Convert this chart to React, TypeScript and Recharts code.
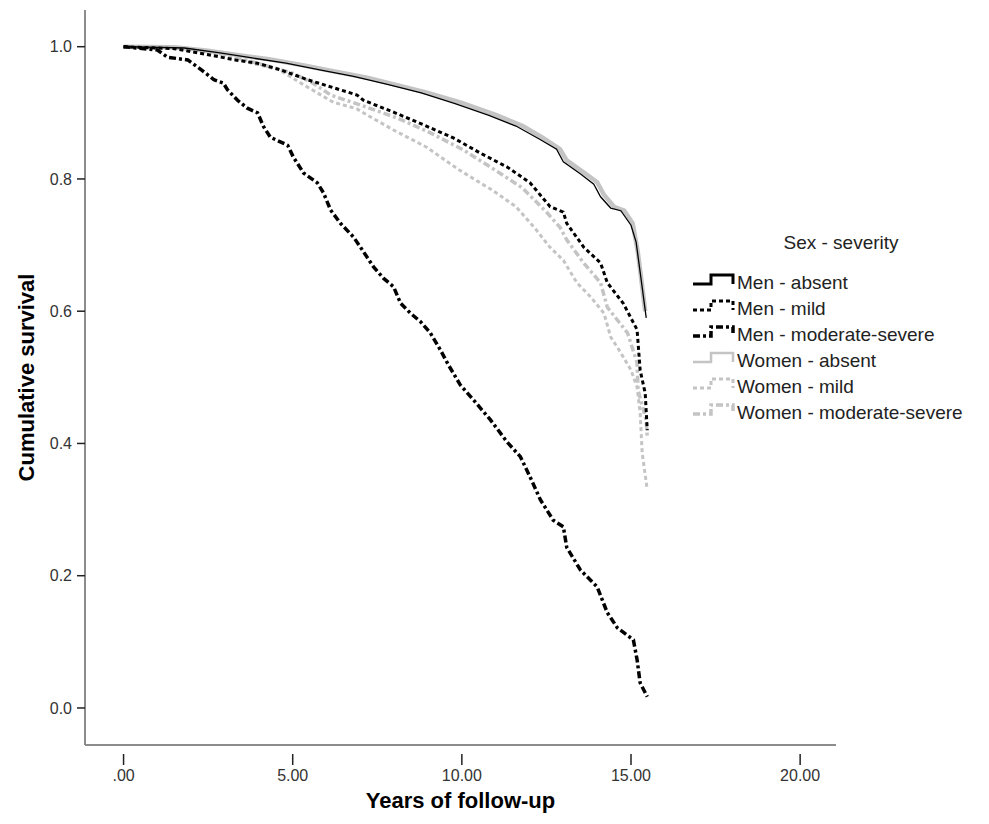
import React from 'react';
import { LineChart, Line, XAxis, YAxis, Legend } from 'recharts';

const xTicks = [0, 5, 10, 15, 20];
const yTicks = [0, 0.2, 0.4, 0.6, 0.8, 1.0];

// survival estimates (years, cumulative survival)
const menAbsentT = [0, 1.8, 2.8, 3.8, 4.8, 5.8, 6.8, 7.8, 8.8, 9.8, 10.8, 11.6, 12.3, 12.8, 13.0, 13.5, 13.9, 14.1, 14.4, 14.7, 15.0, 15.15, 15.3, 15.45];
const menAbsentS = [1.0, 0.998, 0.991, 0.983, 0.975, 0.965, 0.955, 0.943, 0.93, 0.914, 0.896, 0.88, 0.86, 0.845, 0.826, 0.808, 0.792, 0.773, 0.756, 0.752, 0.73, 0.705, 0.648, 0.59];

const menMildT = [0, 1.5, 2.6, 3.3, 3.96, 4.64, 5.44, 6.2, 6.9, 7.09, 7.98, 8.86, 9.75, 10.55, 11.34, 12.02, 12.61, 13.0, 13.1, 13.6, 14.1, 14.3, 14.77, 15.18, 15.27, 15.42, 15.48];
const menMildS = [1.0, 0.997, 0.987, 0.98, 0.975, 0.965, 0.95, 0.938, 0.927, 0.919, 0.901, 0.882, 0.862, 0.839, 0.818, 0.794, 0.758, 0.75, 0.733, 0.697, 0.673, 0.643, 0.612, 0.572, 0.511, 0.476, 0.42];

const menModSevT = [0, 1.0, 1.3, 1.9, 2.3, 2.67, 2.95, 3.07, 3.37, 3.66, 3.96, 4.14, 4.34, 4.85, 5.02, 5.32, 5.73, 5.91, 6.12, 6.41, 6.8, 7.0, 7.39, 7.68, 7.98, 8.19, 8.48, 8.78, 9.07, 9.37, 9.6, 9.96, 10.34, 10.84, 11.34, 11.73, 12.02, 12.32, 12.7, 13.0, 13.1, 13.5, 14.0, 14.3, 14.6, 15.07, 15.18, 15.27, 15.48];
const menModSevS = [1.0, 0.995, 0.984, 0.98, 0.965, 0.95, 0.945, 0.935, 0.919, 0.907, 0.9, 0.879, 0.863, 0.851, 0.833, 0.809, 0.794, 0.779, 0.753, 0.733, 0.712, 0.697, 0.667, 0.65, 0.637, 0.612, 0.597, 0.584, 0.567, 0.541, 0.519, 0.488, 0.466, 0.436, 0.402, 0.38, 0.349, 0.315, 0.284, 0.274, 0.243, 0.209, 0.183, 0.144, 0.121, 0.103, 0.073, 0.038, 0.017];

const womenAbsentT = [0, 1.5, 2.5, 3.3, 4.3, 5.3, 6.2, 7.2, 8.0, 9.0, 10.0, 11.0, 11.8, 12.4, 12.9, 13.1, 13.6, 14.0, 14.2, 14.5, 14.8, 15.05, 15.2, 15.3, 15.42];
const womenAbsentS = [1.0, 0.999, 0.994, 0.988, 0.981, 0.972, 0.963, 0.953, 0.943, 0.93, 0.915, 0.897, 0.88, 0.862, 0.845, 0.828, 0.81, 0.795, 0.776, 0.758, 0.752, 0.733, 0.69, 0.65, 0.6];

const womenMildT = [0, 1.5, 2.5, 3.2, 3.8, 4.6, 5.4, 6.2, 6.9, 7.09, 7.98, 8.96, 9.94, 10.9, 11.6, 12.2, 12.6, 13.0, 13.4, 13.8, 14.2, 14.4, 14.7, 15.0, 15.18, 15.27, 15.33, 15.48];
const womenMildS = [1.0, 0.998, 0.99, 0.983, 0.975, 0.965, 0.94, 0.916, 0.906, 0.9, 0.874, 0.848, 0.813, 0.783, 0.758, 0.723, 0.697, 0.677, 0.643, 0.622, 0.597, 0.561, 0.537, 0.511, 0.485, 0.446, 0.386, 0.33];

const womenModSevT = [0, 1.8, 2.8, 3.6, 4.3, 5.0, 5.6, 6.12, 7.1, 8.1, 9.1, 10.04, 11.0, 11.8, 12.5, 12.9, 13.1, 13.6, 14.1, 14.3, 14.9, 15.18, 15.21, 15.45, 15.48];
const womenModSevS = [1.0, 0.998, 0.99, 0.98, 0.97, 0.96, 0.945, 0.927, 0.91, 0.892, 0.869, 0.844, 0.813, 0.786, 0.75, 0.727, 0.708, 0.673, 0.643, 0.606, 0.567, 0.522, 0.48, 0.435, 0.41];

const toPoints = (t: number[], s: number[]) => t.map((v, i) => ({ t: v, s: s[i] }));

const BLACK = '#000';
const GREY = '#c4c4c4';

// legend order
const series = [
  { key: 'ma', name: 'Men - absent', data: toPoints(menAbsentT, menAbsentS), color: BLACK, width: 1.3, dash: undefined as string | undefined, iconWidth: 3 },
  { key: 'mm', name: 'Men - mild', data: toPoints(menMildT, menMildS), color: BLACK, width: 3, dash: '4 3', iconWidth: 3 },
  { key: 'mms', name: 'Men - moderate-severe', data: toPoints(menModSevT, menModSevS), color: BLACK, width: 3.5, dash: '7 3 3 3', iconWidth: 3.5 },
  { key: 'wa', name: 'Women - absent', data: toPoints(womenAbsentT, womenAbsentS), color: GREY, width: 4.5, dash: undefined, iconWidth: 2.5 },
  { key: 'wm', name: 'Women - mild', data: toPoints(womenMildT, womenMildS), color: GREY, width: 3, dash: '4 3', iconWidth: 3 },
  { key: 'wms', name: 'Women - moderate-severe', data: toPoints(womenModSevT, womenModSevS), color: GREY, width: 3.5, dash: '7 3 3 3', iconWidth: 3.5 },
];

// women underneath, men on top
const drawOrder = ['wa', 'wm', 'wms', 'ma', 'mm', 'mms'];

const fmtX = (v: number) => (v === 0 ? '.00' : v.toFixed(2));

const XTick = (props: any) => {
  const { x, y, payload } = props;
  return (
    <g>
      <line x1={x} x2={x} y1={y + 9} y2={y + 20} stroke="#222" strokeWidth={1.5} />
      <text x={x} y={y + 36} textAnchor="middle" fontSize={16} fill="#333">
        {fmtX(payload.value)}
      </text>
    </g>
  );
};

const renderLegend = () => (
  <svg width={288} height={230}>
    <text x={151} y={28} textAnchor="middle" fontSize={19} fill="#222">
      Sex - severity
    </text>
    {series.map((s, i) => {
      const cy = 61 + i * 26;
      return (
        <g key={s.key}>
          <path
            d={`M3,${cy + 2} H21 V${cy - 7} H43 V${cy + 2}`}
            fill="none"
            stroke={s.color}
            strokeWidth={s.iconWidth}
            strokeDasharray={s.dash}
          />
          <text x={47} y={cy + 7} fontSize={19} fill="#222">
            {s.name}
          </text>
        </g>
      );
    })}
  </svg>
);

export default function App() {
  return (
    <div style={{ position: 'relative', width: 975, height: 810, fontFamily: '"Liberation Sans", Arial, sans-serif', background: '#fff' }}>
      <LineChart width={975} height={810} margin={{ top: 2, right: 147, bottom: 13, left: 0 }}>
        <XAxis
          dataKey="t"
          type="number"
          domain={[-1.14, 21.06]}
          ticks={xTicks}
          allowDataOverflow
          height={60}
          tickSize={0}
          tickMargin={0}
          tickLine={false}
          tick={<XTick />}
          axisLine={{ stroke: '#8c8c8c', strokeWidth: 2 }}
          label={(p: any) => {
            const vb = p.viewBox;
            return (
              <text x={vb.x + vb.width / 2} y={vb.y + 63} textAnchor="middle" fontSize={22} fontWeight="bold" fill="#000">
                Years of follow-up
              </text>
            );
          }}
        />
        <YAxis
          dataKey="s"
          type="number"
          domain={[-0.056, 1.0555]}
          ticks={yTicks}
          allowDataOverflow
          width={77}
          tickSize={8}
          tickMargin={5}
          tickLine={{ stroke: '#222', strokeWidth: 1.5 }}
          tick={{ fill: '#333', fontSize: 16 }}
          tickFormatter={(v: number) => v.toFixed(1)}
          axisLine={{ stroke: '#8c8c8c', strokeWidth: 2 }}
          label={(p: any) => {
            const vb = p.viewBox;
            const cx = 18;
            const cy = vb.y + vb.height / 2;
            return (
              <text
                x={cx}
                y={cy}
                transform={`rotate(-90 ${cx} ${cy})`}
                textAnchor="middle"
                dominantBaseline="central"
                fontSize={22}
                fontWeight="bold"
                fill="#000"
              >
                Cumulative survival
              </text>
            );
          }}
        />
        <Legend
          layout="vertical"
          align="center"
          verticalAlign="middle"
          wrapperStyle={{ left: 682, top: 213, width: 288, height: 230 }}
          content={renderLegend}
        />
        {drawOrder.map((k) => {
          const s = series.find((d) => d.key === k)!;
          return (
            <Line
              key={s.key}
              name={s.name}
              data={s.data}
              dataKey="s"
              type="linear"
              stroke={s.color}
              strokeWidth={s.width}
              strokeDasharray={s.dash}
              dot={false}
              activeDot={false}
              isAnimationActive={false}
            />
          );
        })}
      </LineChart>
    </div>
  );
}
